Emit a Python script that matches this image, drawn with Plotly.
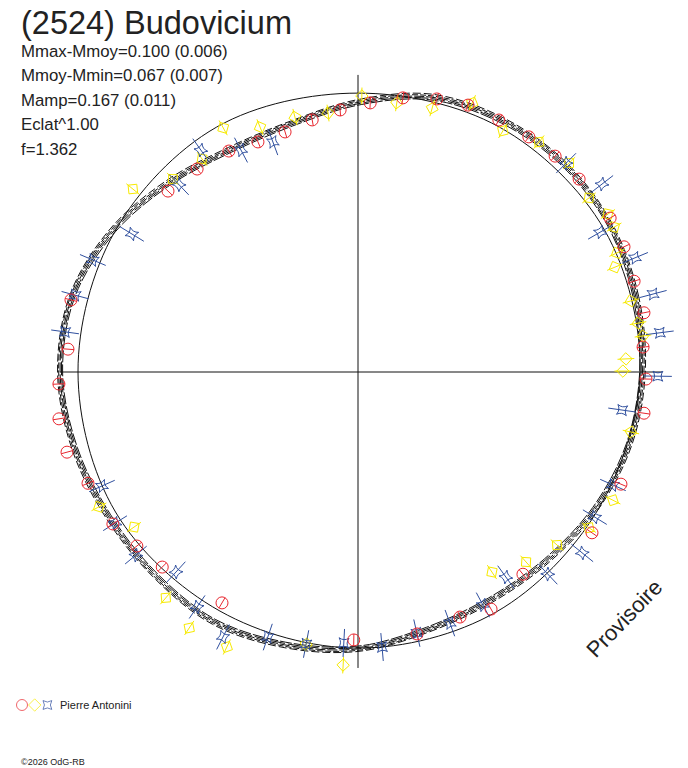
"""
Polar lightcurve of (2524) Budovicium drawn with plotly.
Radius is given in % of the mean circle, angle is the rotation phase in degrees.
"""

import plotly.graph_objects as go

# fitted lightcurves (several sessions), every 15 degrees of phase
MODEL_THETA = [0, 15, 30, 45, 60, 75, 90, 105, 120, 135, 150, 165,
               180, 195, 210, 225, 240, 255, 270, 285, 300, 315, 330, 345]
MODEL_A = [101.6, 102.8, 104.2, 104.6, 103.6, 101.6, 96.3, 91.9, 91.6, 95.6, 101.2, 105.6,
           106.4, 104.8, 103.0, 102.6, 103.0, 100.9, 98.9, 95.4, 94.2, 95.3, 97.8, 100.2]
MODEL_B = [102.6, 103.8, 105.1, 105.5, 104.6, 102.7, 97.3, 92.8, 92.6, 96.7, 102.2, 106.5,
           107.3, 105.8, 104.0, 103.5, 104.0, 101.9, 99.8, 96.3, 95.2, 96.3, 98.8, 101.2]
MODEL_C = [100.6, 101.8, 103.3, 103.6, 102.6, 100.6, 95.3, 90.9, 90.6, 94.6, 100.1, 104.6,
           105.5, 103.8, 102.0, 101.6, 102.0, 99.9, 97.9, 94.4, 93.2, 94.3, 96.8, 99.2]
MODEL_D = [102.1, 103.3, 104.7, 105.1, 104.1, 102.1, 96.8, 92.4, 92.1, 96.1, 101.7, 106.1,
           106.9, 105.3, 103.5, 103.1, 103.5, 101.4, 99.4, 95.9, 94.7, 95.8, 98.3, 100.7]
MODEL_E = [101.1, 102.3, 103.7, 104.1, 103.1, 101.1, 95.8, 91.4, 91.1, 95.1, 100.7, 105.1,
           105.9, 104.3, 102.5, 102.1, 102.5, 100.4, 98.4, 94.9, 93.7, 94.8, 97.3, 99.7]

# thin reference curve
THIN_THETA = [0, 30, 60, 90, 120, 150, 180, 210, 240, 270, 300, 330]
THIN_R = [100.7, 101.6, 101.0, 99.6, 101.0, 100.3, 100.0, 100.0, 98.6, 98.6, 98.9, 98.8]

# observations
RED_THETA = [358.6, 5.0, 11.7, 18.2, 25.2, 31.4, 41.1, 47.6, 54.0, 60.8, 67.6, 73.9, 80.7,
             87.4, 93.9, 100.3, 106.9, 113.5, 120.3, 128.4, 136.4, 165.9, 175.5, 182.3,
             188.9, 195.4, 202.4, 211.8, 218.2, 224.9, 239.5, 269.1, 282.7, 292.6, 299.3,
             309.2, 325.5, 336.9, 351.8]
RED_R = [102.9, 102.2, 104.3, 103.8, 105.0, 105.5, 104.8, 104.4, 103.8, 103.1, 103.1, 101.5, 99.2,
         96.2, 93.8, 91.5, 89.6, 89.6, 91.4, 92.5, 93.7, 105.7, 103.9, 106.9,
         108.1, 107.8, 104.3, 103.0, 100.5, 98.7, 95.7, 95.7, 95.9, 94.8, 97.1,
         93.2, 101.4, 102.1, 103.2]

YEL_THETA = [0.2, 2.8, 7.2, 9.9, 14.6, 22.2, 24.7, 29.5, 32.3, 37.0, 44.7, 51.8, 59.0,
             67.0, 74.3, 81.8, 89.2, 96.6, 103.9, 111.8, 118.9, 126.2, 133.8, 140.9,
             207.5, 214.7, 229.6, 236.6, 244.5, 259.2, 267.1, 303.8, 311.5, 319.0,
             326.0, 333.3, 347.6]
YEL_R = [94.6, 95.8, 102.6, 101.5, 100.7, 99.1, 101.8, 105.1, 105.6, 103.3, 106.1, 104.5, 100.5,
         104.4, 97.9, 97.1, 98.6, 93.1, 93.8, 94.2, 99.6, 94.3, 95.5, 103.6,
         104.3, 97.3, 105.9, 109.5, 108.8, 98.9, 104.8, 86.0, 90.6, 94.2,
         99.5, 101.9, 99.8]

BLUE_THETA = [359.2, 7.4, 14.8, 22.4, 30.0, 37.6, 45.1, 110.3, 117.8, 125.3, 133.7, 148.6,
              157.1, 164.8, 172.2, 204.0, 211.9, 219.5, 227.7, 235.6, 243.0, 251.2, 259.2,
              267.0, 275.0, 282.7, 290.1, 298.2, 305.8, 313.2, 321.1, 328.5, 336.1, 351.8]
BLUE_R = [107.1, 108.7, 109.0, 107.0, 99.9, 110.0, 105.3, 87.6, 89.6, 97.1, 92.5, 94.6,
          102.8, 104.7, 105.6, 100.1, 102.2, 102.8, 96.6, 101.7, 106.2, 100.0, 98.9,
          96.9, 98.6, 95.6, 95.5, 94.4, 90.3, 99.0, 102.9, 99.2, 99.6, 95.3]

STATS = ["Mmax-Mmoy=0.100 (0.006)", "Mmoy-Mmin=0.067 (0.007)", "Mamp=0.167 (0.011)",
         "Eclat^1.00", "f=1.362"]

RED = "#e8262e"
YELLOW = "#f7ea00"
BLUE = "#2f4f9e"
INK = "#222222"
LINE = "#111111"
FONT = "Liberation Sans, Arial, sans-serif"

# the page body has an 8px margin, so the figure is 8px smaller than the window
PAD = 8
W, H = 688 - PAD, 768 - PAD


def px(x):
    return (x - PAD) / W


def py(y):
    return 1 - (y - PAD) / H


def closed(theta, r):
    return list(theta) + [theta[0] + 360], list(r) + [r[0]]


def radial(theta):
    # marker angle (clockwise from up) that points a vertical glyph along the radius
    return [90 - t for t in theta]


fig = go.Figure()

# cross lines through the centre
fig.add_trace(go.Scatterpolar(
    r=[106.4, 0, 108.6, None, 106.1, 0, 105.7],
    theta=[180, 0, 0, None, 90, 0, 270],
    mode="lines", line=dict(color=LINE, width=1), hoverinfo="skip"))

t, r = closed(THIN_THETA, THIN_R)
fig.add_trace(go.Scatterpolar(r=r, theta=t, mode="lines",
                              line=dict(color=LINE, width=1, shape="spline")))

for curve, dash in [(MODEL_A, "10px,2px"), (MODEL_B, "8px,3px"), (MODEL_C, "12px,2px"),
                    (MODEL_D, "6px,2px"), (MODEL_E, "14px,3px")]:
    t, r = closed(MODEL_THETA, curve)
    fig.add_trace(go.Scatterpolar(r=r, theta=t, mode="lines",
                                  line=dict(color=LINE, width=1, dash=dash, shape="spline")))


def points(theta, r, color, symbol, size, bar):
    # error bar along the radius, then the symbol itself
    fig.add_trace(go.Scatterpolar(
        r=r, theta=theta, mode="markers",
        marker=dict(symbol="line-ns-open", size=bar, angle=radial(theta), color=color,
                    line=dict(color=color, width=1))))
    fig.add_trace(go.Scatterpolar(
        r=r, theta=theta, mode="markers",
        marker=dict(symbol=symbol, size=size, angle=radial(theta), color=color,
                    line=dict(color=color, width=1))))


points(YEL_THETA, YEL_R, YELLOW, "diamond-open", 9.5, 12)
points(BLUE_THETA, BLUE_R, BLUE, "star-square-open", 9, 20)
points(RED_THETA, RED_R, RED, "circle-open", 12, 8.5)

# observer key at the bottom
fig.add_trace(go.Scatter(
    x=[0, 1, 2], y=[0, 0, 0], mode="markers", xaxis="x", yaxis="y",
    marker=dict(symbol=["circle-open", "diamond-open", "star-square-open"],
                size=[11, 9.5, 8], color=[RED, YELLOW, BLUE],
                line=dict(color=[RED, YELLOW, BLUE], width=1))))

annotations = [dict(text="(2524) Budovicium", x=px(19), y=py(23),
                    font=dict(size=32.5, color=INK))]
for i, line in enumerate(STATS):
    annotations.append(dict(text=line, x=px(19), y=py(51 + 24.6 * i),
                            font=dict(size=16.8, color=INK)))
annotations.append(dict(text="Pierre Antonini", x=px(58), y=py(705),
                        font=dict(size=11, color=INK)))
annotations.append(dict(text="©2026 OdG-RB", x=px(19), y=py(762),
                        font=dict(size=9, color=INK)))
for a in annotations:
    a.update(xref="paper", yref="paper", xanchor="left", yanchor="middle", showarrow=False)
annotations.append(dict(text="Provisoire", x=px(624), y=py(618), xref="paper",
                        yref="paper", xanchor="center", yanchor="middle", showarrow=False,
                        textangle=-46, font=dict(size=22, color=INK)))

fig.update_layout(
    width=W, height=H,
    margin=dict(l=0, r=0, t=0, b=0),
    paper_bgcolor="white", plot_bgcolor="white",
    showlegend=False,
    font=dict(family=FONT),
    polar=dict(
        domain=dict(x=[px(50), px(666)], y=[py(680), py(64)]),
        bgcolor="white",
        radialaxis=dict(visible=False, range=[0, 110]),
        angularaxis=dict(visible=False, rotation=0, direction="counterclockwise"),
    ),
    xaxis=dict(domain=[0, 0.1], range=[-14 / 12.7, 54 / 12.7], visible=False, fixedrange=True),
    yaxis=dict(domain=[py(715), py(695)], range=[-1, 1], visible=False, fixedrange=True),
    annotations=annotations,
)

fig.write_html("out.html")
